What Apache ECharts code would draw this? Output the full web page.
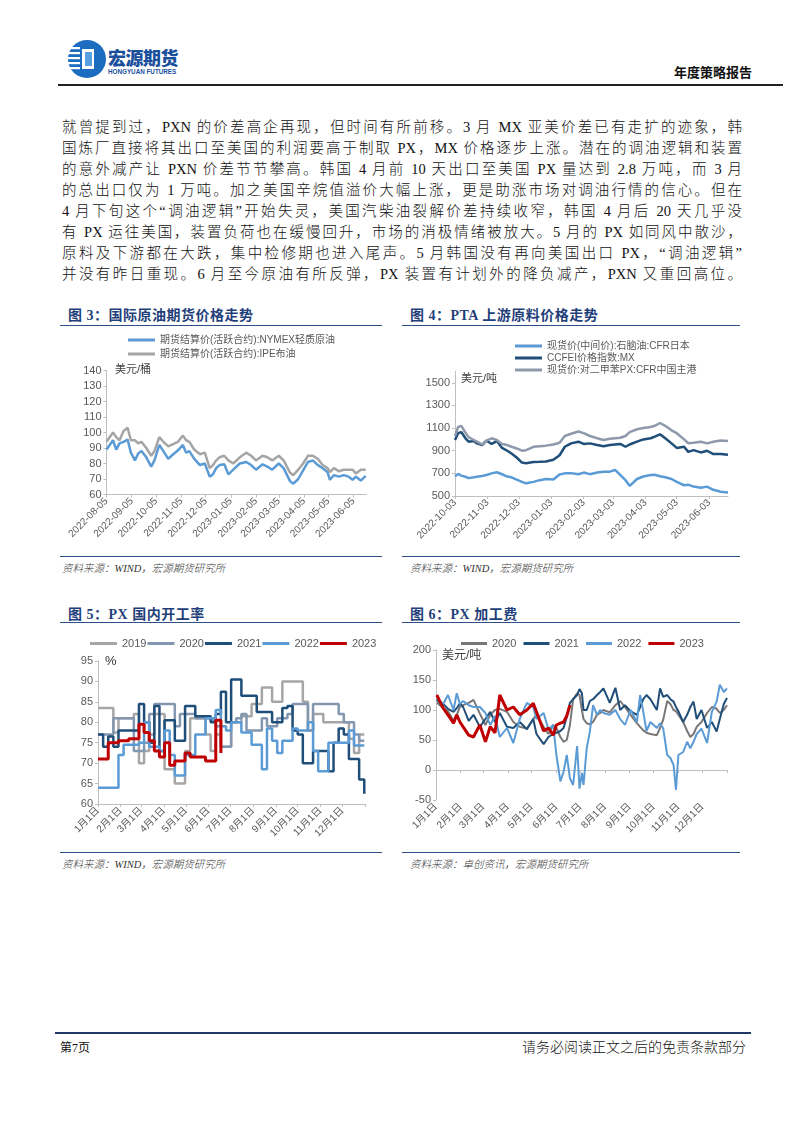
<!DOCTYPE html>
<html>
<head>
<meta charset="utf-8">
<script src="https://cdn.jsdelivr.net/npm/echarts@6/dist/echarts.min.js"></script>
<style>
body { margin: 0; width: 802px; height: 1133px; background: #fff; position: relative; overflow: hidden;
  font-family: "Liberation Serif", "Noto Sans CJK SC", serif; }
.abs { position: absolute; }
.line { left: 62px; width: 680px; font-size: 14.5px; font-weight: 300; color: #111; text-align: justify; text-align-last: justify; white-space: nowrap; height: 20px; line-height: 20px; }
.title { font-family: "Liberation Serif", "Noto Sans CJK SC", serif; font-weight: bold; font-size: 14px; color: #1f3f7a; letter-spacing: 0.5px; }
.rule { height: 0; border-top: 1.5px solid #2d4f8a; }
.src { font-size: 10.5px; font-style: italic; font-weight: 300; color: #333; }
.chart { position: absolute; }
</style>
</head>
<body>

<!-- header -->
<svg class="abs" style="left:66px;top:38px" width="42" height="42" viewBox="0 0 42 42">
  <circle cx="21" cy="21" r="19" fill="#1c6cc0"/>
  <rect x="2" y="9" width="12" height="2.2" fill="#fff"/>
  <rect x="1" y="14" width="13" height="2.2" fill="#fff"/>
  <rect x="1" y="19" width="13" height="2.2" fill="#fff"/>
  <rect x="1" y="24" width="13" height="2.2" fill="#fff"/>
  <rect x="2" y="29" width="12" height="2.2" fill="#fff"/>
  <rect x="16" y="11" width="12" height="20" fill="#fff"/>
  <rect x="19" y="14" width="7" height="14" fill="#5aa0e0"/>
</svg>
<div class="abs" style="left:108px;top:44px;font-family:'Noto Sans CJK SC';font-weight:900;font-size:18px;color:#1a4f9c;letter-spacing:-0.5px">宏源期货</div>
<div class="abs" style="left:108px;top:68px;font-family:'Liberation Sans';font-weight:bold;font-size:6.3px;color:#1a4f9c">HONGYUAN FUTURES</div>
<div class="abs" style="right:50px;top:62px;font-size:13px;font-weight:bold;color:#111">年度策略报告</div>
<div class="abs" style="left:58px;top:84px;width:725px;height:0;border-top:2px solid #222"></div>

<!-- paragraph -->
<div class="abs line" style="top:117px">就曾提到过，PXN 的价差高企再现，但时间有所前移。3 月 MX 亚美价差已有走扩的迹象，韩</div>
<div class="abs line" style="top:138px">国炼厂直接将其出口至美国的利润要高于制取 PX，MX 价格逐步上涨。潜在的调油逻辑和装置</div>
<div class="abs line" style="top:159px">的意外减产让 PXN 价差节节攀高。韩国 4 月前 10 天出口至美国 PX 量达到 2.8 万吨，而 3 月</div>
<div class="abs line" style="top:180px">的总出口仅为 1 万吨。加之美国辛烷值溢价大幅上涨，更是助涨市场对调油行情的信心。但在</div>
<div class="abs line" style="top:201px">4 月下旬这个“调油逻辑”开始失灵，美国汽柴油裂解价差持续收窄，韩国 4 月后 20 天几乎没</div>
<div class="abs line" style="top:222px">有 PX 运往美国，装置负荷也在缓慢回升，市场的消极情绪被放大。5 月的 PX 如同风中散沙，</div>
<div class="abs line" style="top:243px">原料及下游都在大跌，集中检修期也进入尾声。5 月韩国没有再向美国出口 PX，“调油逻辑”</div>
<div class="abs line" style="top:264px">并没有昨日重现。6 月至今原油有所反弹，PX 装置有计划外的降负减产，PXN 又重回高位。</div>

<!-- figure titles -->
<div class="abs title" style="left:68px;top:304px">图 3：国际原油期货价格走势</div>
<div class="abs rule" style="left:60px;top:325px;width:322px"></div>
<div class="abs title" style="left:410px;top:304px">图 4：PTA 上游原料价格走势</div>
<div class="abs rule" style="left:402px;top:325px;width:338px"></div>

<div id="c3" class="chart" style="left:60px;top:330px;width:340px;height:226px"></div>
<div id="c4" class="chart" style="left:400px;top:330px;width:340px;height:226px"></div>

<div class="abs rule" style="left:60px;top:556px;width:322px;border-top-width:1px"></div>
<div class="abs src" style="left:62px;top:560px">资料来源：WIND，宏源期货研究所</div>
<div class="abs rule" style="left:402px;top:556px;width:338px;border-top-width:1px"></div>
<div class="abs src" style="left:410px;top:560px">资料来源：WIND，宏源期货研究所</div>

<div class="abs title" style="left:68px;top:603px">图 5：PX 国内开工率</div>
<div class="abs rule" style="left:60px;top:622px;width:322px"></div>
<div class="abs title" style="left:410px;top:603px">图 6：PX 加工费</div>
<div class="abs rule" style="left:402px;top:622px;width:338px"></div>

<div id="c5" class="chart" style="left:60px;top:630px;width:340px;height:220px"></div>
<div id="c6" class="chart" style="left:400px;top:630px;width:340px;height:220px"></div>

<div class="abs rule" style="left:60px;top:852px;width:322px;border-top-width:1px"></div>
<div class="abs src" style="left:62px;top:856px">资料来源：WIND，宏源期货研究所</div>
<div class="abs rule" style="left:402px;top:852px;width:338px;border-top-width:1px"></div>
<div class="abs src" style="left:410px;top:856px">资料来源：卓创资讯，宏源期货研究所</div>

<!-- footer -->
<div class="abs" style="left:55px;top:1032px;width:696px;height:0;border-top:2px solid #1f3864"></div>
<div class="abs" style="left:60px;top:1038px;font-size:12px;color:#111">第7页</div>
<div class="abs" style="right:56px;top:1036px;font-size:14px;font-weight:300;color:#111">请务必阅读正文之后的免责条款部分</div>

<script>
// 图3 国际原油
const dates3 = ['2022-08-05','2022-08-13','2022-08-17','2022-08-21','2022-08-26','2022-08-31','2022-09-04','2022-09-09','2022-09-13','2022-09-17','2022-09-23','2022-09-29','2022-10-03','2022-10-09','2022-10-14','2022-10-20','2022-10-24','2022-11-01','2022-11-07','2022-11-11','2022-11-15','2022-11-21','2022-11-28','2022-12-04','2022-12-10','2022-12-14','2022-12-18','2022-12-22','2022-12-28','2023-01-02','2023-01-08','2023-01-16','2023-01-24','2023-01-30','2023-02-05','2023-02-13','2023-02-19','2023-02-25','2023-03-05','2023-03-11','2023-03-19','2023-03-23','2023-03-29','2023-04-04','2023-04-10','2023-04-16','2023-04-22','2023-04-28','2023-05-04','2023-05-07','2023-05-12','2023-05-18','2023-05-24','2023-05-30','2023-06-04','2023-06-08','2023-06-14','2023-06-20']
const wti = [89,95,89,93,94,95.5, 87,82,86.5,88,84,78, 82,92,88,83,85, 88.5,92,87,88,83,79, 80,71.5,73,77,79,79.5, 73,76,80,81,79, 76,79.5,78,76, 80,77,68.5,67,70, 75.5,81,82,79,77, 74.5,69.5,72.5,71.5,72.5,71.5, 69.5,71.5,69,72]
const brent = [94,100,97,95,101,103, 95,95,93,94,90,85, 88,97,94,91,92, 94,98,95,94,89,86, 87,77,79,82,84,85, 82,80,84,87,85, 82,85,84,82, 85,82,74,72.5,76, 80,85,85,83,79, 77,74.5,77,75,76,76, 76,73.5,76,76]
const ticks3 = ['2022-08-05','2022-09-05','2022-10-05','2022-11-05','2022-12-05','2023-01-05','2023-02-05','2023-03-05','2023-04-05','2023-05-05','2023-06-05']

// 图4 PTA上游原料
const dates4 = ['2022-10-03','2022-10-06','2022-10-09','2022-10-13','2022-10-16','2022-10-21','2022-10-24','2022-10-29','2022-11-02','2022-11-07','2022-11-12','2022-11-17','2022-11-22','2022-11-26','2022-12-01','2022-12-06','2022-12-10','2022-12-17','2022-12-23','2022-12-29','2023-01-05','2023-01-11','2023-01-16','2023-01-22','2023-01-29','2023-02-03','2023-02-09','2023-02-16','2023-02-22','2023-02-28','2023-03-05','2023-03-10','2023-03-15','2023-03-19','2023-03-26','2023-04-01','2023-04-08','2023-04-12','2023-04-17','2023-04-22','2023-04-28','2023-05-03','2023-05-10','2023-05-14','2023-05-19','2023-05-26','2023-06-01','2023-06-07','2023-06-14','2023-06-21']
const naphtha = [675,695,680,670,658,665,670,677, 685,700,710,692,672,665, 645,625,612,625,640,650, 645,690,700,702,692, 707,693,707,715,715, 730,686,640,590,650, 672,686,688,675,665,650, 625,595,600,583,572, 583,555,538,530]
const mx = [995,1055,1065,1010,980,985,965,950, 990,960,985,925,900,875, 840,795,790,800,802,805, 820,860,935,965,980, 960,965,950,940,950, 955,960,935,955,980, 1000,1010,1025,1045,1010,965, 925,935,890,905,885, 900,870,872,865]
const px = [1030,1110,1120,1060,1020,995,980,955, 990,1010,995,960,950,935, 920,900,905,935,940,945, 955,970,1030,1050,1070, 1055,1030,1010,995,1005, 1010,1015,1030,1065,1090, 1100,1110,1120,1145,1120,1080, 1055,1000,966,970,980, 965,980,990,985]
const ticks4 = ['2022-10-03','2022-11-03','2022-12-03','2023-01-03','2023-02-03','2023-03-03','2023-04-03','2023-05-03','2023-06-03']

// 图5 PX国内开工率（周度，年内天数）
const weekDays = [0,7,14,21,28,35,42,49,56,63,70,77,84,91,98,105,112,119,126,133,140,147,154,161,168,175,182,189,196,203,210,217,224,231,238,245,252,259,266,273,280,287,294,301,308,315,322,329,336,343,350,357,364]
const rate2019 = [83.5,83.5,83.5,77.5,81,81,81,82,70,73, 77,82,82,68.5,68.5,65,65,73,81,81, 81,77,73,77,74,74,80,80,81.5,81.5, 84.5,84.5,88.5,88.5,85,85,90,90,90,90, 85,78,82,82,80,80,80,80,80,76, 72.5,77,77]
const rate2020 = [77,77,77,81,81,81,81,73,73,75, 82,84.5,84.5,84.5,84.5,79,82,82,82,81, 81,81,80.5,79,74,74,80,81,82,78, 78,78,81,79,79,81,81,82,84.5,84.5, 84.5,78,84.5,84.5,84.5,84.5,84.5,82,80,80, 77,75.5,75.5]
const rate2021 = [77,74,76.5,74,78,78,78,78,84.5,80, 75,84,73,80.5,80.5,75.5,75.5,84,84,81.5, 81.5,81.5,80,82,87.5,80,90.5,90.5,86.5,86.5, 86.5,82.5,82.5,82.5,80,80,83.5,84,78,77, 70,70,73,73,73,68,75,78.5,77,71, 71,66,62.5]
const rate2022 = [64,64,64,64,72,74.5,74.5,74.5,75,80, 74,74,73,78,72,67,67,72,72,77, 77,81,81,83,79,78,80,80,77.5,77.5, 74.5,74.5,68.5,78.5,75.5,72.5,75.5,75.5,78.5,78, 78,80,73,68,68,75,75,75,75,78, 74.3,74.3,74.3]
const rate2023 = [71,71,75,75,75.5,75.5,76,76,79.5,77.5, 75.5,73,71.5,75,69.5,70.5,70.5,72.5,71.5,71.5, 71.5,70.5,70.5,80.5,72.5]

// 图6 PX加工费
const feeDays = [1,5,9,15,22,26,30,34,41,47,55,62,68,74,80,89,97,105,114,122,126,135,141,147,151,156,160,164,168,172,177,180,183,185,189,193,197,202,206,210,218,225,231,237,244,252,256,260,264,269,277,281,285,290,294,298,301,304,310,315,319,323,327,333,340,346,352,356,361,365]
const fee2020 = [112,108,103,98,82,92,105,108,112,117, 94,75,92,100,102,97,80,72,69,85, 92,72,60,75,70,55,47,50,75,118, 128,125,100,85,78,76,80,92,95,100, 96,108,115,105,92,78,72,66,62,60, 58,70,84,115,110,100,98,92,80,65, 55,60,72,80,95,105,102,95,100,108]
const fee2021 = [117,112,110,102,97,103,111,105,82,92, 72,85,97,80,95,72,70,80,68,85, 60,43,55,60,62,65,70,88,112,118, 125,135,128,100,100,115,118,125,130,136, 112,137,100,108,98,92,105,118,125,118, 100,136,122,125,118,114,105,98,80,92, 105,114,85,100,70,80,64,85,110,120]
const fee2022 = [120,115,110,125,100,128,110,115,108,105, 105,95,75,90,55,70,45,85,112,105, 85,95,68,75,25,-19,-3,25,-14,-25, 40,-31,-5,-25,36,64,108,92,100,95, 92,100,85,75,100,80,125,97,65,80, 70,78,69,25,20,8,-33,25,30,47, 36,47,60,69,45,97,114,142,130,136]
const fee2023 = [125,114,103,92,78,92,80,72,58,55, 75,47,72,62,125,100,105,92,100,111, 97,65,70,58,75,78,80,90,108]

const monthStarts = [0,31,59,90,120,151,181,212,243,273,304,334]
const monthLabels = ['1月1日','2月1日','3月1日','4月1日','5月1日','6月1日','7月1日','8月1日','9月1日','10月1日','11月1日','12月1日']

const FONT = '"Liberation Sans", "Noto Sans CJK SC", sans-serif'
const AX = '#bfbfbf'
const LBL = '#595959'

function ts (s) {
  return echarts.number.parseDate(s).getTime()
}
function pad (n) {
  return (n < 10 ? '0' : '') + n
}
function fmtDate (v) {
  const d = new Date(v)
  return d.getFullYear() + '-' + pad(d.getMonth() + 1) + '-' + pad(d.getDate())
}
function zip (xs, ys) {
  return ys.map((v, i) => [xs[i], v])
}
function lineSeries (name, xs, ys, color, width, extra) {
  return Object.assign({
    name: name,
    type: 'line',
    symbol: 'none',
    data: zip(xs, ys),
    lineStyle: { color: color, width: width },
    itemStyle: { color: color }
  }, extra || {})
}
function yAxisBase (min, max, interval) {
  return {
    type: 'value',
    min: min,
    max: max,
    interval: interval,
    axisLine: { show: true, lineStyle: { color: AX } },
    axisTick: { show: true, length: 3, lineStyle: { color: AX } },
    splitLine: { show: false },
    axisLabel: { fontSize: 11, color: LBL, margin: 5, formatter: v => String(v) }
  }
}
// 日期轴：用时间戳的数值轴，刻度放在每月固定日
function dateAxis (min, max, ticks) {
  const tv = ticks.map(ts)
  return {
    type: 'value',
    min: ts(min),
    max: ts(max),
    axisLine: { onZero: false, lineStyle: { color: AX } },
    axisTick: { show: true, customValues: tv, length: 3, lineStyle: { color: AX } },
    splitLine: { show: false },
    axisLabel: {
      customValues: tv,
      rotate: 45,
      fontSize: 10,
      color: LBL,
      margin: 5,
      formatter: fmtDate
    }
  }
}
function dayAxis (extra) {
  return Object.assign({
    type: 'value',
    min: 0,
    max: 365,
    axisLine: { onZero: false, lineStyle: { color: AX } },
    axisTick: { show: true, customValues: monthStarts.concat([365]), length: 3, lineStyle: { color: AX } },
    splitLine: { show: false },
    axisLabel: {
      customValues: monthStarts,
      rotate: 45,
      fontSize: 10,
      color: LBL,
      margin: 5,
      formatter: v => monthLabels[monthStarts.indexOf(v)] || ''
    }
  }, extra || {})
}

// 图3
const x3 = dates3.map(ts)
let c3 = echarts.init(document.getElementById('c3'))
c3.setOption({
  animation: false,
  textStyle: { fontFamily: FONT },
  legend: {
    orient: 'vertical', left: 68, top: 3, padding: 0, icon: 'rect', itemWidth: 27, itemHeight: 3, itemGap: 0,
    textStyle: { fontSize: 10, color: LBL, lineHeight: 14 }
  },
  grid: { left: 46.5, top: 40.5, width: 260, height: 124, outerBoundsMode: 'none' },
  xAxis: dateAxis('2022-08-05', '2023-06-21', ticks3),
  yAxis: yAxisBase(60, 140, 10),
  graphic: [{ type: 'text', left: 55, top: 34, style: { text: '美元/桶', fontSize: 11, fill: '#404040', fontFamily: FONT } }],
  series: [
    lineSeries('期货结算价(活跃合约):NYMEX轻质原油', x3, wti, '#5b9bd5', 2.5),
    lineSeries('期货结算价(活跃合约):IPE布油', x3, brent, '#a5a5a5', 2.5)
  ]
})

// 图4
const x4 = dates4.map(ts)
let c4 = echarts.init(document.getElementById('c4'))
let y4 = yAxisBase(500, 1600, 200)
y4.axisLabel.showMaxLabel = false
c4.setOption({
  animation: false,
  textStyle: { fontFamily: FONT },
  legend: {
    orient: 'vertical', left: 115, top: 10, padding: 0, icon: 'rect', itemWidth: 27, itemHeight: 3, itemGap: 0,
    textStyle: { fontSize: 10, color: LBL, lineHeight: 12 }
  },
  grid: { left: 55, top: 41.5, width: 273, height: 124.5, outerBoundsMode: 'none' },
  xAxis: dateAxis('2022-10-03', '2023-06-21', ticks4),
  yAxis: y4,
  graphic: [{ type: 'text', left: 61, top: 43, style: { text: '美元/吨', fontSize: 11, fill: '#404040', fontFamily: FONT } }],
  series: [
    lineSeries('现货价(中间价):石脑油:CFR日本', x4, naphtha, '#5b9bd5', 2.5),
    lineSeries('CCFEI价格指数:MX', x4, mx, '#1f4e79', 2.5),
    lineSeries('现货价:对二甲苯PX:CFR中国主港', x4, px, '#8e9aab', 2.5)
  ]
})

// 图5
let c5 = echarts.init(document.getElementById('c5'))
c5.setOption({
  animation: false,
  textStyle: { fontFamily: FONT },
  legend: {
    left: 30, top: 8, padding: 0, icon: 'rect', itemWidth: 27, itemHeight: 3, itemGap: 1,
    textStyle: { fontSize: 11, color: LBL }
  },
  grid: { left: 38, top: 31, width: 267, height: 143, outerBoundsMode: 'none' },
  xAxis: dayAxis(),
  yAxis: yAxisBase(60, 95, 5),
  graphic: [{ type: 'text', left: 45, top: 25, style: { text: '%', fontSize: 13, fill: '#333', fontFamily: FONT } }],
  series: [
    lineSeries('2019', weekDays, rate2019, '#a6a6a6', 2.5, { step: 'end' }),
    lineSeries('2020', weekDays, rate2020, '#8497b0', 2.5, { step: 'end' }),
    lineSeries('2021', weekDays, rate2021, '#1f4e79', 2.5, { step: 'end' }),
    lineSeries('2022', weekDays, rate2022, '#5b9bd5', 2.5, { step: 'end' }),
    lineSeries('2023', weekDays, rate2023, '#c00000', 3, { step: 'end' })
  ]
})

// 图6
let c6 = echarts.init(document.getElementById('c6'))
c6.setOption({
  animation: false,
  textStyle: { fontFamily: FONT },
  legend: {
    left: 61, top: 8, padding: 0, icon: 'rect', itemWidth: 26, itemHeight: 3, itemGap: 7,
    textStyle: { fontSize: 11, color: LBL }
  },
  grid: { left: 36, top: 20, width: 291, height: 150, outerBoundsMode: 'none' },
  xAxis: [
    dayAxis({ axisLine: { show: false, onZero: false }, axisTick: { show: false } }),
    {
      type: 'value', min: 0, max: 365, position: 'bottom',
      axisLine: { onZero: true, lineStyle: { color: AX } },
      axisTick: { show: true, customValues: monthStarts.concat([365]), length: 3, lineStyle: { color: AX } },
      axisLabel: { show: false },
      splitLine: { show: false }
    }
  ],
  yAxis: yAxisBase(-50, 200, 50),
  graphic: [{ type: 'text', left: 42, top: 20, style: { text: '美元/吨', fontSize: 12, fill: '#404040', fontFamily: FONT } }],
  series: [
    lineSeries('2020', feeDays, fee2020, '#7a7676', 2),
    lineSeries('2021', feeDays, fee2021, '#1f4e79', 2),
    lineSeries('2022', feeDays, fee2022, '#5b9bd5', 2),
    lineSeries('2023', feeDays, fee2023, '#c00000', 3)
  ]
})
</script>
</body>
</html>
